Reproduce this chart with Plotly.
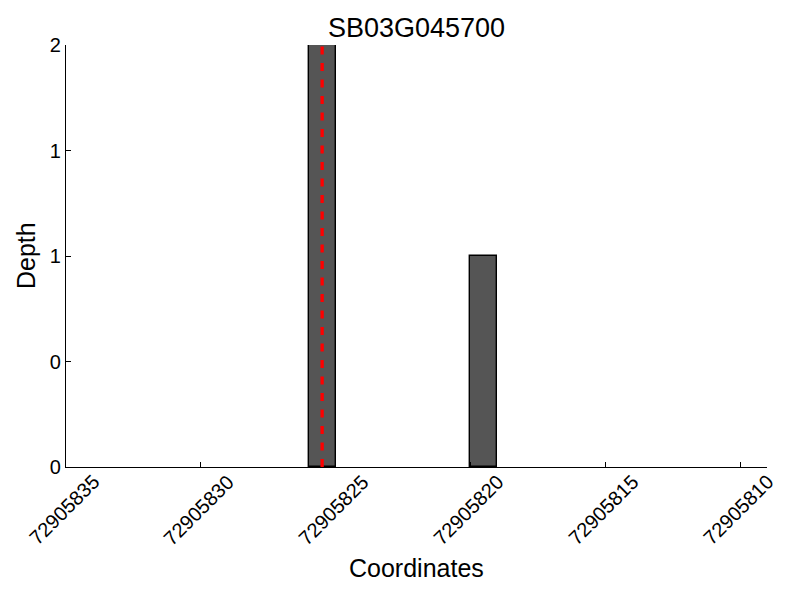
import plotly.graph_objects as go

title = "SB03G045700"
bar_positions = [72905825.5, 72905819.5]
bar_depths = [2, 1]
marker_position = 72905825.5
x_tick_vals = [72905835, 72905830, 72905825, 72905820, 72905815, 72905810]
y_tick_vals = [0, 0.5, 1, 1.5, 2]
y_tick_text = ["0", "0", "1", "1", "2"]

font = "Liberation Sans, Arial, sans-serif"

OFF = 8  # page body margin offset
W, H = 800 - OFF, 600 - OFF
L, T = 66 - OFF, 45 - OFF
pw, ph = 701, 422
R, B = W - L - pw, H - T - ph

fig = go.Figure()
fig.add_trace(go.Bar(
    x=bar_positions, y=bar_depths, width=1,
    marker=dict(color="#555555", line=dict(color="black", width=1.4)),
    showlegend=False, hoverinfo="skip",
))
fig.add_trace(go.Scatter(
    x=[marker_position, marker_position], y=[0, max(bar_depths)],
    mode="lines", line=dict(color="#ff0000", width=3.3, dash="8px,8.5px"),
    showlegend=False, hoverinfo="skip",
))

annotations = [
    dict(text="Coordinates", xref="paper", yref="paper",
         x=0.5, y=-(568 - 467) / ph, xanchor="center", yanchor="middle",
         showarrow=False, font=dict(size=25, family=font)),
    dict(text="Depth", xref="paper", yref="paper",
         x=-(66 - 26) / pw, y=0.5, xanchor="center", yanchor="middle",
         textangle=-90, showarrow=False, font=dict(size=25, family=font)),
]
for v in x_tick_vals:
    annotations.append(dict(
        text=str(v), xref="x", yref="paper", x=v, y=-(510 - 467) / ph,
        xanchor="center", yanchor="middle", textangle=-45, showarrow=False,
        xshift=-2, font=dict(size=20, family=font),
    ))

fig.update_layout(
    width=W, height=H,
    margin=dict(l=L, r=R, t=T, b=B, autoexpand=False),
    paper_bgcolor="white", plot_bgcolor="white",
    font=dict(family=font, color="black", size=20),
    title=dict(text=title, x=(66 + 767 - 2 * OFF) / 2 / W, xanchor="center",
               y=1 - (28 - OFF) / H, yanchor="middle", font=dict(size=27, family=font)),
    bargap=0,
    annotations=annotations,
)
fig.update_xaxes(
    range=[72905835, 72905809], tickvals=x_tick_vals, showticklabels=False,
    ticks="inside", ticklen=5, tickcolor="black",
    showline=True, linecolor="black", linewidth=1.3, showgrid=False,
    zeroline=False, automargin=False,
)
fig.update_yaxes(
    range=[0, 2], tickvals=y_tick_vals, ticktext=y_tick_text,
    ticks="inside", ticklen=5, tickcolor="black",
    showline=True, linecolor="black", linewidth=1.3, showgrid=False,
    zeroline=False, tickfont=dict(size=20), automargin=False,
)

fig.write_html("out.html")
